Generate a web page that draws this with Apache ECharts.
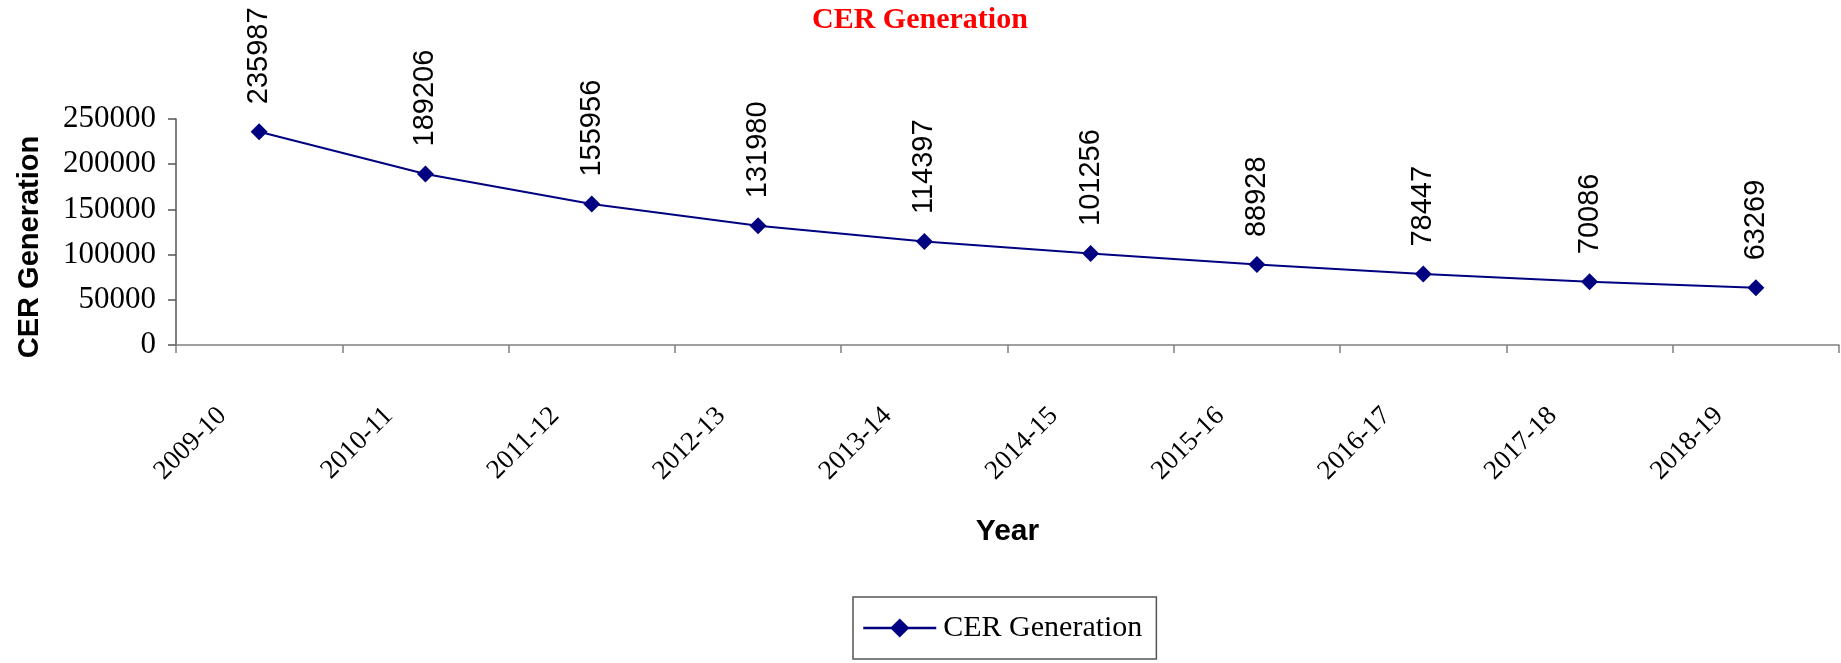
<!DOCTYPE html>
<html><head><meta charset="utf-8">
<script src="https://cdn.jsdelivr.net/npm/echarts@6/dist/echarts.min.js"></script>
<style>html,body{margin:0;padding:0;background:#fff}#c{width:1841px;height:663px}</style>
</head><body><div id="c"></div>
<script>
const categories = ['2009-10','2010-11','2011-12','2012-13','2013-14','2014-15','2015-16','2016-17','2017-18','2018-19'];
const cerGeneration = [235987,189206,155956,131980,114397,101256,88928,78447,70086,63269];
const yTicks = {min:0, max:250000, interval:50000};
const seriesName = 'CER Generation';

const chart = echarts.init(document.getElementById('c'));
chart.setOption({
  animation:false,
  backgroundColor:'#fff',
  title:{text:'CER Generation', left:807, top:0,
    textStyle:{color:'#ff0000', fontFamily:'Liberation Serif', fontWeight:'bold', fontSize:30}},
  legend:{data:[seriesName], left:853, top:597, orient:'horizontal',
    borderColor:'#555', borderWidth:1.5, padding:[16,14,16,9],
    itemWidth:73, itemHeight:24,
    lineStyle:{width:2.5},
    textStyle:{fontFamily:'Liberation Serif', fontSize:30, color:'#000', padding:[0,0,0,2]}},
  grid:{left:176, right:2, top:119, bottom:663-345, containLabel:false},
  xAxis:{type:'category', data:categories, boundaryGap:true,
    name:'Year', nameLocation:'middle', nameGap:172,
    nameTextStyle:{fontFamily:'Liberation Sans', fontWeight:'bold', fontSize:30, color:'#000'},
    axisLine:{lineStyle:{color:'#808080', width:1.5}},
    axisTick:{show:true, length:8, lineStyle:{color:'#808080', width:1.5}},
    axisLabel:{interval:0, rotate:45, margin:30, padding:[0,52,0,0], fontFamily:'Liberation Serif', fontSize:27, color:'#000'},
    splitLine:{show:false}},
  yAxis:{type:'value', min:yTicks.min, max:yTicks.max, interval:yTicks.interval,
    name:'CER Generation', nameLocation:'middle', nameRotate:90, nameGap:132,
    nameTextStyle:{fontFamily:'Liberation Sans', fontWeight:'bold', fontSize:29, color:'#000', padding:[0,30,0,0]},
    axisLine:{show:true, lineStyle:{color:'#555', width:1.5}},
    axisTick:{show:true, length:8, lineStyle:{color:'#555', width:1.5}},
    axisLabel:{margin:20, fontFamily:'Liberation Serif', fontSize:31, color:'#000', formatter:function(v){return String(v);}},
    splitLine:{show:false}},
  series:[{name:seriesName, type:'line', data:cerGeneration,
    symbol:'diamond', symbolSize:17,
    lineStyle:{color:'#000080', width:2},
    itemStyle:{color:'#000080'},
    label:{show:true, position:'top', rotate:90, align:'left', verticalAlign:'middle', distance:19,
      fontFamily:'Liberation Sans', fontSize:29, color:'#000'}}]
});
</script></body></html>
